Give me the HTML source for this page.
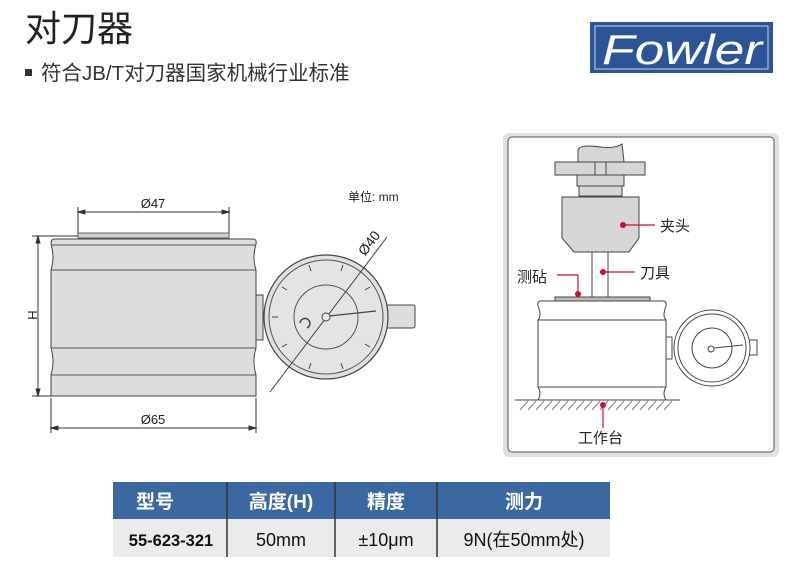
<!DOCTYPE html>
<html><head><meta charset="utf-8"><style>
html,body{margin:0;padding:0;background:#fff;}
svg{display:block;}
text{font-family:"Liberation Sans","Noto Sans CJK SC",sans-serif;}
</style></head><body>
<svg width="800" height="568" viewBox="0 0 800 568" xmlns="http://www.w3.org/2000/svg">
<rect width="800" height="568" fill="#fff"/>
<text x="25" y="41" font-size="36" fill="#222">对刀器</text>
<rect x="25" y="69" width="7" height="7" fill="#333"/>
<text x="41" y="80" font-size="20.5" fill="#333">符合JB/T对刀器国家机械行业标准</text>
<rect x="590" y="22" width="183" height="51" fill="#2c5597"/>
<rect x="595" y="26" width="173" height="43" fill="none" stroke="#c8d4e8" stroke-width="1"/>
<text x="682" y="64" font-size="42" fill="#fff" text-anchor="middle" font-style="italic" textLength="160" lengthAdjust="spacingAndGlyphs">Fowler</text>

<g stroke="#333" stroke-width="1" fill="none">
  <line x1="78" y1="207" x2="78" y2="234"/><line x1="229" y1="207" x2="229" y2="234"/>
  <line x1="78" y1="212" x2="229" y2="212"/>
  <path d="M78 212 l7 -2 v4z M229 212 l-7 -2 v4z" fill="#333"/>
  <line x1="32" y1="236" x2="80" y2="236"/><line x1="32" y1="396" x2="51" y2="396"/>
  <line x1="38" y1="236" x2="38" y2="396"/>
  <path d="M38 236 l-2 7 h4z M38 396 l-2 -7 h4z" fill="#333"/>
  <line x1="51" y1="398" x2="51" y2="433"/><line x1="256" y1="398" x2="256" y2="433"/>
  <line x1="51" y1="428" x2="256" y2="428"/>
  <path d="M51 428 l7 -2 v4z M256 428 l-7 -2 v4z" fill="#333"/>
</g>
<rect x="78" y="233" width="151" height="5" fill="#d0d0d0" stroke="#444" stroke-width="0.8"/>
<path d="M54 239 H253 Q257 239 256 244 Q252 257 256 270 V348 Q252 361 256 375 V396 H51 V375 Q55 361 51 348 V270 Q55 257 51 244 Q51 239 54 239Z" fill="#dddddd" stroke="#444" stroke-width="1"/>
<g stroke="#555" stroke-width="1">
<line x1="51" y1="245" x2="256" y2="245"/>
<line x1="51" y1="270" x2="256" y2="270"/>
<line x1="51" y1="348" x2="256" y2="348"/>
<line x1="51" y1="375" x2="256" y2="375"/>
</g>
<rect x="256" y="295" width="7" height="45" fill="#d8d8d8" stroke="#444"/>
<rect x="386" y="305" width="29" height="23" rx="2" fill="#dddddd" stroke="#444"/>
<circle cx="326" cy="317" r="62" fill="#e0e0e0" stroke="#444" stroke-width="1.2"/>
<circle cx="326" cy="317" r="57" fill="#e4e4e4" stroke="#555"/>
<circle cx="326" cy="317" r="32" fill="none" stroke="#555"/>
<g stroke="#444" stroke-width="1">
<line x1="309" y1="265" x2="311" y2="271"/><line x1="343" y1="265" x2="341" y2="271"/>
<line x1="282" y1="287" x2="287" y2="290"/><line x1="370" y1="287" x2="365" y2="290"/>
<line x1="272" y1="317" x2="278" y2="317"/>
<line x1="282" y1="347" x2="287" y2="344"/><line x1="370" y1="347" x2="365" y2="344"/>
<line x1="309" y1="369" x2="311" y2="363"/><line x1="343" y1="369" x2="341" y2="363"/>
<line x1="329" y1="316" x2="376" y2="311" stroke-width="1.3"/>
<line x1="387" y1="237" x2="270" y2="392"/>
</g>
<circle cx="326" cy="317" r="4" fill="#e8e8e8" stroke="#444"/>
<path d="M300 323 a5 5 0 1 1 7 5" fill="none" stroke="#444" stroke-width="1.5"/>
<text x="153" y="208" font-size="13" fill="#222" text-anchor="middle">Ø47</text>
<text x="153" y="424" font-size="13" fill="#222" text-anchor="middle">Ø65</text>
<text x="0" y="0" font-size="13" fill="#222" transform="translate(28,315) rotate(90)" text-anchor="middle">H</text>
<text x="348" y="201" font-size="12" fill="#222">单位: mm</text>
<text x="0" y="0" font-size="14" fill="#222" text-anchor="middle" transform="translate(373,246) rotate(-53)">Ø40</text>

<rect x="503" y="133" width="276" height="324" rx="6" fill="#e0e0e0"/>
<rect x="508" y="137" width="266" height="315" rx="4" fill="#fff" stroke="#555"/>
<g stroke="#444" stroke-width="1" fill="#d6d6d6">
<path d="M578 162 V150 Q580 144 600 147 Q615 149 622 144 L624 162Z"/>
<rect x="555" y="162" width="90" height="13"/>
<line x1="595" y1="162" x2="595" y2="175"/><line x1="606" y1="162" x2="606" y2="175"/>
<rect x="577" y="175" width="47" height="11"/>
<rect x="579" y="186" width="43" height="10"/>
<path d="M562 197 H639 V238 L629 252 H574 L562 238Z"/>
<rect x="592" y="252" width="16" height="45" fill="#fff"/>
<rect x="555" y="297" width="95" height="4" fill="#bbb"/>
<path d="M540 301 H664 Q667 302 666 306 Q662 316 666 320 V387 Q662 393 666 400 H538 Q542 393 538 387 V320 Q542 316 538 306 Q537 302 540 301Z" fill="#fff"/>
<line x1="538" y1="320" x2="666" y2="320" fill="none"/>
<line x1="538" y1="387" x2="666" y2="387" fill="none"/>
<rect x="666" y="337" width="6" height="22" fill="#fff"/>
<rect x="745" y="340" width="12" height="15" fill="#fff"/>
<circle cx="712" cy="348" r="38" fill="#fff"/>
<circle cx="712" cy="348" r="34" fill="#fff"/>
<circle cx="712" cy="348" r="20" fill="none"/>
<circle cx="711" cy="349" r="3" fill="#fff"/>
<line x1="714" y1="348" x2="743" y2="345"/>
<line x1="515" y1="400" x2="680" y2="400"/>
</g>
<g stroke="#555" stroke-width="0.8">
<path d="M520 410 l8 -9 M528 410 l8 -9 M536 410 l8 -9 M544 410 l8 -9 M552 410 l8 -9 M560 410 l8 -9 M568 410 l8 -9 M576 410 l8 -9 M584 410 l8 -9 M592 410 l8 -9 M600 410 l8 -9 M608 410 l8 -9 M616 410 l8 -9 M624 410 l8 -9 M632 410 l8 -9 M640 410 l8 -9 M648 410 l8 -9 M656 410 l8 -9 M664 410 l8 -9"/>
</g>
<g stroke="#c8102e" stroke-width="1.2" fill="none">
<line x1="623" y1="225" x2="655" y2="225"/>
<line x1="603" y1="272" x2="635" y2="272"/>
<path d="M557 275 H578 V294"/>
<line x1="603" y1="404" x2="603" y2="428"/>
</g>
<g fill="#c8102e"><circle cx="623" cy="225" r="3"/><circle cx="603" cy="272" r="3"/><circle cx="578" cy="294" r="3"/><circle cx="603" cy="405" r="3"/></g>
<g font-size="15" fill="#222">
<text x="660" y="231">夹头</text>
<text x="640" y="278">刀具</text>
<text x="517" y="282">测砧</text>
<text x="578" y="443">工作台</text>
</g>

<rect x="113" y="482" width="497" height="37" fill="#3b68a1"/>
<rect x="113" y="519" width="497" height="38" fill="#ebebeb"/>
<g stroke="#333" stroke-width="1.5">
<line x1="227" y1="482" x2="227" y2="557"/>
<line x1="335" y1="482" x2="335" y2="557"/>
<line x1="437" y1="482" x2="437" y2="557"/>
</g>
<g font-size="19" font-weight="bold" fill="#fff" text-anchor="middle">
<text x="155" y="508">型号</text>
<text x="281" y="508">高度(H)</text>
<text x="386" y="508">精度</text>
<text x="524" y="508">测力</text>
</g>
<g font-size="18" fill="#111" text-anchor="middle">
<text x="171" y="546" font-family="DejaVu Sans Mono, monospace" font-size="16.5" font-weight="bold">55-623-321</text>
<text x="281" y="546">50mm</text>
<text x="386" y="546">±10μm</text>
<text x="524" y="546">9N(在50mm处)</text>
</g>
</svg>
</body></html>
